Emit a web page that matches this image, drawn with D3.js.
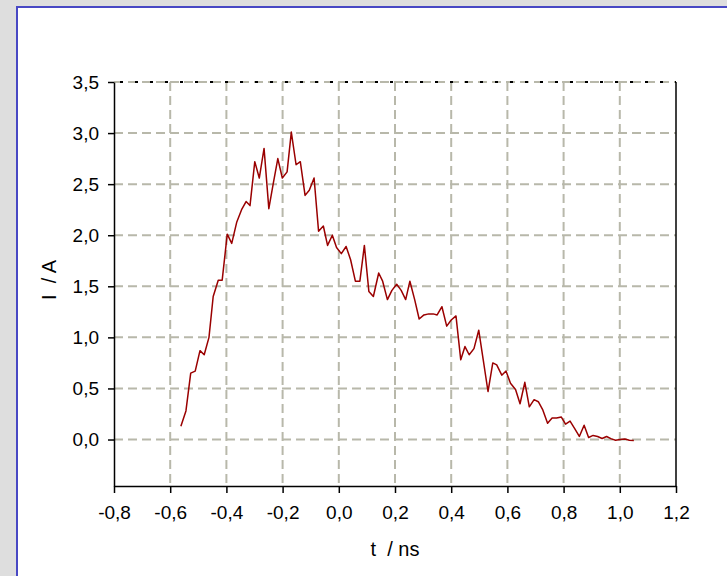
<!DOCTYPE html>
<meta charset="utf-8">
<style>
  body { margin: 0; background: #dedede; }
  text { font-family: "Liberation Sans", Arial, sans-serif; fill: #000; }
</style>

<svg width="727" height="576"></svg>

<script src="https://d3js.org/d3.v7.min.js"></script>
<script>

var times = [
  -0.562, -0.544, -0.527, -0.511, -0.494, -0.479, -0.462, -0.447, -0.429, -0.415,
  -0.397, -0.381, -0.363, -0.346, -0.330, -0.316, -0.299, -0.283, -0.266, -0.249,
  -0.233, -0.217, -0.201, -0.184, -0.169, -0.152, -0.137, -0.120, -0.105, -0.088,
  -0.072, -0.055, -0.040, -0.023, -0.008, 0.009, 0.026, 0.042, 0.059, 0.075,
  0.091, 0.107, 0.123, 0.142, 0.156, 0.173, 0.189, 0.206, 0.222, 0.238,
  0.253, 0.270, 0.286, 0.303, 0.320, 0.336, 0.350, 0.367, 0.384, 0.400,
  0.417, 0.434, 0.449, 0.464, 0.481, 0.498, 0.514, 0.531, 0.548, 0.562,
  0.580, 0.595, 0.611, 0.629, 0.645, 0.662, 0.678, 0.695, 0.710, 0.726,
  0.743, 0.759, 0.775, 0.792, 0.807, 0.823, 0.839, 0.856, 0.873, 0.889,
  0.905, 0.921, 0.937, 0.953, 0.970, 0.985, 1.001, 1.018, 1.034, 1.050
]
var current = [
  0.13, 0.28, 0.65, 0.67, 0.87, 0.83, 1.00, 1.40, 1.56, 1.56,
  2.01, 1.92, 2.13, 2.25, 2.33, 2.29, 2.72, 2.56, 2.85, 2.26,
  2.51, 2.75, 2.56, 2.62, 3.01, 2.69, 2.72, 2.39, 2.44, 2.56,
  2.04, 2.09, 1.90, 2.00, 1.88, 1.82, 1.89, 1.76, 1.55, 1.55,
  1.90, 1.45, 1.40, 1.63, 1.55, 1.37, 1.46, 1.52, 1.46, 1.37,
  1.55, 1.37, 1.18, 1.22, 1.23, 1.23, 1.22, 1.30, 1.11, 1.17,
  1.21, 0.78, 0.91, 0.83, 0.89, 1.07, 0.78, 0.47, 0.75, 0.73,
  0.63, 0.67, 0.55, 0.49, 0.35, 0.56, 0.32, 0.39, 0.37, 0.29,
  0.16, 0.21, 0.21, 0.22, 0.15, 0.18, 0.11, 0.03, 0.14, 0.02,
  0.04, 0.03, 0.01, 0.03, 0.006, -0.007, 0.0, 0.006, -0.007, -0.01
]

var xTicks = [-0.8, -0.6, -0.4, -0.2, 0.0, 0.2, 0.4, 0.6, 0.8, 1.0, 1.2]
var yTicks = [0.0, 0.5, 1.0, 1.5, 2.0, 2.5, 3.0, 3.5]

// plot box (names avoid window.top)
var pLeft = 114, pRight = 676, pTop = 82, pBottom = 486
var GRID = '#b8b8aa'

var svg = d3.select('svg')

// white panel with the blue frame on top and left
svg.append('rect')
  .attr('x', 17).attr('y', 7)
  .attr('width', 760).attr('height', 600)
  .attr('fill', '#fff')
  .attr('stroke', '#4848c4')
  .attr('stroke-width', 2)

var x = d3.scaleLinear().domain([-0.8, 1.2]).range([pLeft, pRight])
var y = d3.scaleLinear().domain([-0.455, 3.5]).range([pBottom, pTop])

var fmt = function (d) {
  return d3.format('.1f')(d).replace('.', ',').replace('\u2212', '-')
}

// dashed grid
svg.append('g').selectAll('line')
  .data(xTicks.slice(1, -1))
  .enter().append('line')
    .attr('x1', x).attr('x2', x)
    .attr('y1', pTop).attr('y2', pBottom)
    .attr('stroke', GRID).attr('stroke-width', 2)
    .attr('stroke-dasharray', '9,5')

svg.append('g').selectAll('line')
  .data(yTicks)
  .enter().append('line')
    .attr('y1', y).attr('y2', y)
    .attr('x1', pLeft).attr('x2', pRight)
    .attr('stroke', GRID).attr('stroke-width', 2)
    .attr('stroke-dasharray', '9,5')

// top border is drawn dotted over the grid line
svg.append('line')
  .attr('x1', pLeft).attr('x2', pRight)
  .attr('y1', pTop).attr('y2', pTop)
  .attr('stroke', '#000').attr('stroke-width', 2)
  .attr('stroke-dasharray', '3,12')
  .attr('stroke-dashoffset', -6)

svg.append('line')
  .attr('x1', pRight).attr('x2', pRight)
  .attr('y1', pTop).attr('y2', pBottom)
  .attr('stroke', '#000').attr('stroke-width', 1.5)

// axes
var xAxis = d3.axisBottom(x).tickValues(xTicks).tickFormat(fmt)
  .tickSizeInner(7).tickSizeOuter(0).tickPadding(13)
var yAxis = d3.axisLeft(y).tickValues(yTicks).tickFormat(fmt)
  .tickSizeInner(6).tickSizeOuter(0).tickPadding(9)

svg.append('g')
  .attr('transform', 'translate(0,' + pBottom + ')')
  .call(xAxis)
svg.append('g')
  .attr('transform', 'translate(' + pLeft + ',0)')
  .call(yAxis)

svg.selectAll('.domain').attr('stroke', '#000').attr('stroke-width', 1.5)
svg.selectAll('.tick line').attr('stroke', '#000').attr('stroke-width', 1.5)
svg.selectAll('.tick text')
  .style('font-size', '19px')
  .style('font-family', '"Liberation Sans", Arial, sans-serif')
  .attr('fill', '#000')

// the pulse
var points = times.map(function (t, i) { return [t, current[i]] })

var line = d3.line()
  .x(function (d) { return x(d[0]) })
  .y(function (d) { return y(d[1]) })

svg.append('path')
  .datum(points)
  .attr('d', line)
  .attr('fill', 'none')
  .attr('stroke', '#9a0000')
  .attr('stroke-width', 1.5)
  .attr('stroke-linejoin', 'round')

// axis titles
svg.append('text')
  .attr('x', (pLeft + pRight) / 2)
  .attr('y', 556)
  .attr('text-anchor', 'middle')
  .attr('font-size', 20)
  .attr('xml:space', 'preserve')
  .text('t  / ns')

svg.append('text')
  .attr('transform', 'translate(56,' + ((pTop + pBottom) / 2 - 4) + ') rotate(-90)')
  .attr('text-anchor', 'middle')
  .attr('font-size', 20)
  .attr('xml:space', 'preserve')
  .text('I  / A')

</script>
